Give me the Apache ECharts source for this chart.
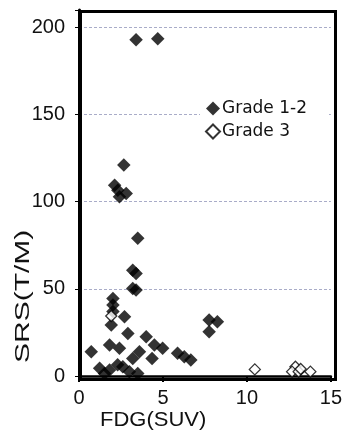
<!DOCTYPE html>
<html>
<head>
<meta charset="utf-8">
<script src="https://cdn.jsdelivr.net/npm/echarts@6/dist/echarts.min.js"></script>
<style>
  html, body { margin: 0; padding: 0; background: #fff; }
  #chart { width: 345px; height: 438px; }
</style>
</head>
<body>
<div id="chart"></div>
<script>
// Grade 1-2 (filled diamonds)
var grade12Fdg = [3.40, 4.69, 2.67, 2.12, 2.31, 2.81, 2.41, 3.50, 3.20, 3.40, 3.20, 3.40,
  2.02, 2.02, 2.02, 2.71, 1.92, 2.91, 4.00, 0.73, 1.82, 2.41, 3.60, 3.20, 4.35, 4.49, 4.98,
  5.87, 6.27, 6.66, 7.75, 8.24, 7.75, 1.23, 1.82, 1.52, 2.61, 3.00, 3.50, 2.30];
var grade12Srs = [193, 193.5, 121, 109.5, 106.6, 104.7, 102.8, 79, 60.7, 58.8, 50.2, 49.3,
  44.5, 40.7, 37, 34, 29.2, 24.4, 22.5, 13.9, 17.8, 15.9, 13.9, 10.1, 10, 17.8, 15.9,
  13, 11.1, 9.2, 32.1, 31.1, 25.4, 4.4, 3.4, 1.5, 5.3, 2.5, 1.5, 6.5];
// Grade 3 (open diamonds)
var grade3Fdg = [1.92, 10.47, 12.89, 12.69, 13.08, 13.78, 13.2];
var grade3Srs = [34.4, 3.8, 5.3, 2.5, 2.5, 2.5, 4];

var xTicks = [0, 5, 10, 15];
var yTicks = [0, 50, 100, 150, 200];

function pairs(xs, ys) {
  return xs.map(function (x, i) { return [x, ys[i]]; });
}

var chart = echarts.init(document.getElementById('chart'));
var tickFont = { fontFamily: 'Liberation Sans', fontSize: 20, color: '#111' };

chart.setOption({
  animation: false,
  backgroundColor: '#fff',
  grid: { left: 79, right: 13, top: 10, bottom: 62 },
  legend: {
    left: 200, top: 95,
    orient: 'vertical',
    backgroundColor: '#fff',
    padding: [5, 22, 5, 5],
    itemWidth: 14, itemHeight: 14, itemGap: 6,
    textStyle: { fontFamily: 'DejaVu Sans', fontSize: 17, color: '#111', padding: [0, 0, 0, -3] },
    data: ['Grade 1-2', 'Grade 3']
  },
  xAxis: {
    type: 'value', min: 0, max: 15, interval: 5,
    axisLine: { show: true, onZero: false, lineStyle: { color: '#000', width: 2.5 } },
    axisTick: { show: true, length: 6, lineStyle: { color: '#000', width: 2 } },
    axisLabel: Object.assign({ margin: 12 }, tickFont, {
      formatter: function (v) { return xTicks.indexOf(v) >= 0 ? String(v) : ''; }
    }),
    splitLine: { show: false }
  },
  yAxis: {
    type: 'value', min: 0, max: 210, interval: 50,
    axisLine: { show: true, lineStyle: { color: '#000', width: 3 } },
    axisTick: { show: true, length: 4, lineStyle: { color: '#000', width: 1 } },
    axisLabel: Object.assign({ margin: 14 }, tickFont, {
      formatter: function (v) { return yTicks.indexOf(v) >= 0 ? String(v) : ''; }
    }),
    splitLine: { show: true, lineStyle: { color: '#a9acc8', width: 1, type: [3, 2] } }
  },
  graphic: [
    {
      // plot frame
      type: 'rect', left: 78, top: 9, z: 100, silent: true,
      shape: { width: 255, height: 368 },
      style: { fill: 'none', stroke: '#000', lineWidth: 3 }
    },
    {
      type: 'text', left: 100, top: 410,
      style: { text: 'FDG(SUV)', fontFamily: 'Liberation Sans', fontSize: 20, fill: '#111' },
      scaleX: 1.1
    },
    {
      type: 'text', x: 13, y: 363, rotation: Math.PI / 2,
      style: { text: 'SRS(T/M)', fontFamily: 'Liberation Sans', fontSize: 20, fill: '#111' },
      scaleX: 1.5
    }
  ],
  series: [
    {
      name: 'Grade 1-2', type: 'scatter', symbol: 'diamond', symbolSize: 13.5,
      itemStyle: { color: '#000' },
      data: pairs(grade12Fdg, grade12Srs)
    },
    {
      name: 'Grade 3', type: 'scatter', symbol: 'diamond', symbolSize: 11,
      itemStyle: { color: '#fff', borderColor: '#000', borderWidth: 1.3 },
      data: pairs(grade3Fdg, grade3Srs)
    }
  ]
});
</script>
</body>
</html>
